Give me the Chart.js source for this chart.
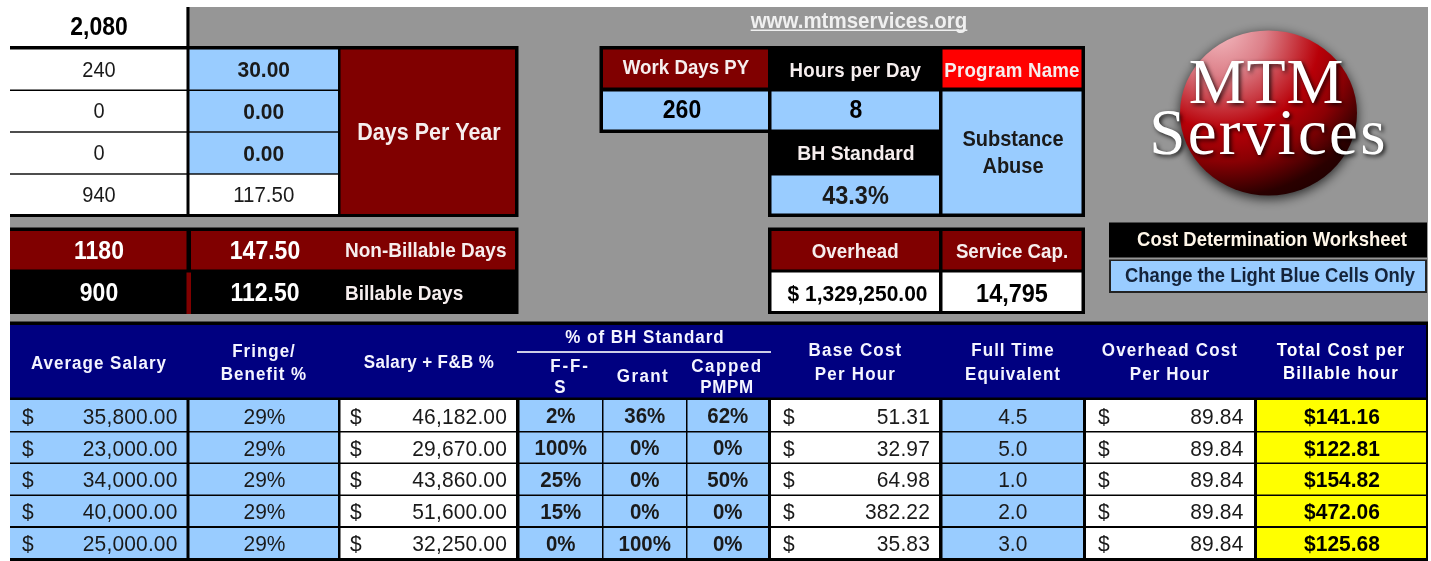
<!DOCTYPE html>
<html>
<head>
<meta charset="utf-8">
<title>Cost Determination Worksheet</title>
<script src="https://cdn.jsdelivr.net/npm/chart.js@4"></script>
<style>
  html, body { margin: 0; padding: 0; background: #fff; }
  #sheet { display: block; filter: blur(0.4px); }
</style>
</head>
<body>
<canvas id="sheet" width="1431" height="561"></canvas>
<script>
// worksheet values
const averageSalary = [35800, 23000, 34000, 40000, 25000];
const fringePct = [29, 29, 29, 29, 29];
const salaryPlusFb = [46182, 29670, 43860, 51600, 32250];
const ffsPct = [2, 100, 25, 15, 0];
const grantPct = [36, 0, 0, 0, 100];
const cappedPct = [62, 0, 50, 0, 0];
const baseCost = [51.31, 32.97, 64.98, 382.22, 35.83];
const fullTimeEq = [4.5, 5.0, 1.0, 2.0, 3.0];
const overheadCost = [89.84, 89.84, 89.84, 89.84, 89.84];
const totalCost = [141.16, 122.81, 154.82, 472.06, 125.68];

const hoursColumn = ['240', '0', '0', '940'];
const daysColumn = ['30.00', '0.00', '0.00', '117.50'];
const summaryLabels = ['Non-Billable Days', 'Billable Days'];
const summaryHours = ['1180', '900'];
const summaryDays = ['147.50', '112.50'];

// colours
const BLUE = '#99ccff', MAROON = '#800000', NAVY = '#000080', GRAY = '#969696', BLACK = '#000000',
      WHITE = '#ffffff', YELLOW = '#ffff00', RED = '#ff0000', INK = '#1a1a1a', PALE = '#f6eeee';

// the source is a picture stretched upwards, so glyphs are taller than they are wide
const STRETCH = 1.09;

// row edges of the lower table
const rowTop = [400, 432.5, 464, 496, 528];
const rowBottom = [431, 462.5, 494.5, 526, 558];

function money(v) {
  return v.toLocaleString('en-US', { minimumFractionDigits: 2, maximumFractionDigits: 2 });
}

// a cell is a point in the dataset (its centre) with the box around it
function cell(x0, y0, x1, y1, fill, text, o) {
  return Object.assign({ x: (x0 + x1) / 2, y: (y0 + y1) / 2, x0: x0, y0: y0, x1: x1, y1: y1, fill: fill, text: text }, o || {});
}
function label(x, y, text, size, weight, color, o) {
  return Object.assign({ x: x, y: y, text: text, size: size, weight: weight, color: color }, o || {});
}

function tableColumn(name, values, fmt, x0, x1, fill, o) {
  return {
    label: name,
    data: values.map(function (v, i) {
      return cell(x0, rowTop[i], x1, rowBottom[i], fill, fmt(v), Object.assign({ y: (rowTop[i] + rowBottom[i]) / 2 + 0.5 }, o));
    })
  };
}
function dollarColumn(name, values, x0, x1, dollarX, rightX, fill) {
  return {
    label: name,
    data: values.map(function (v, i) {
      const y = (rowTop[i] + rowBottom[i]) / 2 + 0.5;
      return cell(x0, rowTop[i], x1, rowBottom[i], fill, money(v), {
        x: rightX, y: y, align: 'right', size: 21, weight: 'normal', color: INK, ls: 0.15, prefix: '$', prefixX: dollarX
      });
    })
  };
}

const pct = function (v) { return v + '%'; };
const pctBold = { size: 20.5, weight: 'bold', color: INK };

// black and grey backing plus the fixed cells of the upper part
const upperCells = [
  cell(10, 7, 1428, 322, GRAY),
  cell(10, 7, 186.5, 46.5, WHITE, '2,080', { size: 23, weight: 'bold', color: BLACK, y: 27, x: 99 }),
  cell(186.5, 7, 189.5, 46.5, BLACK),
  cell(10, 46, 518.5, 217, BLACK),
  cell(340.5, 49.5, 515, 214, MAROON, 'Days Per Year', { size: 21.5, weight: 'bold', color: PALE, y: 132, x: 429 }),

  cell(10, 227.5, 518.5, 314, BLACK),
  cell(10, 231, 186.5, 269.5, MAROON),
  cell(191, 231, 515, 269.5, MAROON),
  cell(186.5, 272.5, 191, 314, MAROON),

  cell(599.5, 46, 1085, 133, BLACK),
  cell(768, 46, 1085, 217, BLACK),
  cell(603, 49.5, 768, 87.5, MAROON, 'Work Days PY', { size: 18.7, weight: 'bold', color: PALE, y: 67.5, x: 686 }),
  cell(771.5, 49.5, 939, 87.5, BLACK, 'Hours per Day', { size: 18.7, weight: 'bold', color: PALE, y: 70, ls: 0.3 }),
  cell(942.5, 49.5, 1081.5, 87.5, RED, 'Program Name', { size: 18.7, weight: 'bold', color: PALE, y: 70, ls: 0.2 }),
  cell(603, 91.5, 768, 129.5, BLUE, '260', { size: 23, weight: 'bold', color: BLACK, y: 110, x: 682 }),
  cell(771.5, 91.5, 939, 129.5, BLUE, '8', { size: 23, weight: 'bold', color: BLACK, y: 110, x: 856 }),
  cell(771.5, 133, 939, 175, BLACK, 'BH Standard', { size: 19.4, weight: 'bold', color: PALE, y: 153, x: 856 }),
  cell(771.5, 175.5, 939, 213.5, BLUE, '43.3%', { size: 23.5, weight: 'bold', color: INK, y: 195, x: 855.5 }),
  cell(942.5, 91.5, 1081.5, 213.5, BLUE),

  cell(768, 227.5, 1085, 314, BLACK),
  cell(771.5, 231, 939, 269.5, MAROON, 'Overhead', { size: 18.7, weight: 'bold', color: PALE, y: 251, ls: 0.1 }),
  cell(942.5, 231, 1081.5, 269.5, MAROON, 'Service Cap.', { size: 18.7, weight: 'bold', color: PALE, y: 251 }),
  cell(771.5, 272.5, 939, 311, WHITE, '$ 1,329,250.00', { size: 21, weight: 'bold', color: BLACK, y: 293, x: 857.5 }),
  cell(942.5, 272.5, 1081.5, 311, WHITE, '14,795', { size: 23.5, weight: 'bold', color: BLACK, y: 293 }),

  cell(1109, 222.5, 1427, 257.5, BLACK, 'Cost Determination Worksheet', { size: 18.5, weight: 'bold', color: '#fff6e8', y: 239.5, x: 1272, width: 271 }),
  cell(1109, 259.5, 1427, 293, '#222222'),
  cell(1111, 261, 1425, 291, BLUE, 'Change the Light Blue Cells Only', { size: 19, weight: 'bold', color: '#14233a', y: 275.5, x: 1270, width: 290 }),

  cell(10, 321.5, 1428, 561, BLACK),
  cell(10, 325, 1426, 397.5, NAVY)
];

// the two stacked columns in the top left block
const hoursCells = hoursColumn.map(function (v, i) {
  const tops = [49.5, 91, 132.7, 174.7], bottoms = [89.5, 131.3, 173.3, 214];
  return cell(10, tops[i], 186.5, bottoms[i], WHITE, v, { size: 20, weight: 'normal', color: INK, x: 99 });
});
const daysCells = daysColumn.map(function (v, i) {
  const tops = [49.5, 91, 132.7, 174.7], bottoms = [89.5, 131.3, 173.3, 214];
  return cell(189.5, tops[i], 338, bottoms[i], i < 3 ? BLUE : WHITE, v, i < 3
    ? { size: 21, weight: 'bold', color: INK } : { size: 20.5, weight: 'normal', color: INK });
});

const summaryText = [
  label(99, 250.5, summaryHours[0], 23, 'bold', WHITE, {}),
  label(265, 250.5, summaryDays[0], 23, 'bold', WHITE, {}),
  label(345, 250.5, summaryLabels[0], 19, 'bold', PALE, { align: 'left' }),
  label(99, 293, summaryHours[1], 23, 'bold', WHITE, {}),
  label(265, 293, summaryDays[1], 23, 'bold', WHITE, {}),
  label(345, 293, summaryLabels[1], 19, 'bold', PALE, { align: 'left' })
];

const headerText = [
  label(859, 20.5, 'www.mtmservices.org', 20.5, 'bold', '#f0f0f0', { underline: true }),
  label(1013, 139, 'Substance', 20, 'bold', INK, {}),
  label(1013, 166, 'Abuse', 20, 'bold', INK, {}),
  label(99, 362.5, 'Average Salary', 17, 'bold', '#f4f4ff', { ls: 1 }),
  label(264, 351, 'Fringe/', 17, 'bold', '#f4f4ff', { ls: 1 }),
  label(264, 374, 'Benefit %', 17, 'bold', '#f4f4ff', { ls: 1 }),
  label(429, 362, 'Salary + F&B %', 17, 'bold', '#f4f4ff', { ls: 0.4 }),
  label(645, 336.5, '% of BH Standard', 17, 'bold', '#f4f4ff', { ls: 1 }),
  label(570, 365.5, 'F-F-', 17, 'bold', '#f4f4ff', { ls: 1.8 }),
  label(560, 387, 'S', 17, 'bold', '#f4f4ff', {}),
  label(643, 376, 'Grant', 17, 'bold', '#f4f4ff', { ls: 1.4 }),
  label(727, 366, 'Capped', 17, 'bold', '#f4f4ff', { ls: 1.5 }),
  label(727, 387, 'PMPM', 17, 'bold', '#f4f4ff', { ls: 0.6 }),
  label(855.5, 350, 'Base Cost', 17, 'bold', '#f4f4ff', { ls: 1.2 }),
  label(855.5, 374, 'Per Hour', 17, 'bold', '#f4f4ff', { ls: 1.2 }),
  label(1013, 350, 'Full Time', 17, 'bold', '#f4f4ff', { ls: 1 }),
  label(1013, 374, 'Equivalent', 17, 'bold', '#f4f4ff', { ls: 1 }),
  label(1170, 350, 'Overhead Cost', 17, 'bold', '#f4f4ff', { ls: 1.2 }),
  label(1170, 374, 'Per Hour', 17, 'bold', '#f4f4ff', { ls: 1.1 }),
  label(1341, 350, 'Total Cost per', 17, 'bold', WHITE, { ls: 1.1 }),
  label(1341, 373, 'Billable hour', 17, 'bold', WHITE, { ls: 1 })
];

// rule under "% of BH Standard"
const headerRule = [cell(517, 351.2, 771, 352.8, WHITE)];

// the logo ball, placed with the same scales
const logoBall = [{ x: 1268.5, y: 113, rx: 88.5, ry: 82.5, logo: true }];

const datasets = [
  { label: 'Upper cells', data: upperCells },
  { label: 'Hours', data: hoursCells },
  { label: 'Days', data: daysCells },
  { label: 'Summary', data: summaryText },
  { label: 'Rule', data: headerRule },
  { label: 'Logo', data: logoBall },
  { label: 'Headings', data: headerText },
  dollarColumn('Average Salary', averageSalary, 10, 186.5, 28, 177.5, BLUE),
  tableColumn('Fringe/Benefit %', fringePct, pct, 189.5, 338, BLUE, { size: 21, weight: 'normal', color: INK, x: 264.5 }),
  dollarColumn('Salary + F&B %', salaryPlusFb, 340.5, 516, 356, 507, WHITE),
  tableColumn('F-F-S', ffsPct, pct, 519.5, 602, BLUE, pctBold),
  tableColumn('Grant', grantPct, pct, 603.5, 686, BLUE, pctBold),
  tableColumn('Capped PMPM', cappedPct, pct, 687.5, 768, BLUE, pctBold),
  dollarColumn('Base Cost Per Hour', baseCost, 771, 939, 789, 930, WHITE),
  tableColumn('Full Time Equivalent', fullTimeEq, function (v) { return v.toFixed(1); }, 942.5, 1083, BLUE, { size: 21, weight: 'normal', color: INK }),
  dollarColumn('Overhead Cost Per Hour', overheadCost, 1086, 1254, 1104, 1243.5, WHITE),
  tableColumn('Total Cost per Billable hour', totalCost, function (v) { return '$' + money(v); }, 1257, 1426, YELLOW, { size: 21, weight: 'bold', color: BLACK, x: 1342 })
];

function drawText(ctx, px, py, item, text, align) {
  const size = item.size * STRETCH;
  ctx.save();
  ctx.translate(px, py + size * 0.335);
  ctx.scale(1 / STRETCH, 1);
  ctx.font = (item.weight || 'normal') + ' ' + size + 'px "Liberation Sans", Arial, sans-serif';
  ctx.letterSpacing = ((item.ls || 0) * STRETCH) + 'px';
  ctx.fillStyle = item.color;
  ctx.textAlign = align || 'center';
  ctx.textBaseline = 'alphabetic';
  ctx.fillText(text, 0, 0, item.width ? item.width * STRETCH : undefined);
  const w = ctx.measureText(text).width / STRETCH;
  ctx.restore();
  return w;
}

function drawLogo(ctx, item, x, y) {
  const cx = x.getPixelForValue(item.x), cy = y.getPixelForValue(item.y);
  ctx.save();
  ctx.shadowColor = 'rgba(0,0,0,0.75)';
  ctx.shadowBlur = 12;
  ctx.shadowOffsetY = 3;
  ctx.beginPath();
  ctx.ellipse(cx, cy, item.rx, item.ry, 0, 0, Math.PI * 2);
  const g = ctx.createRadialGradient(cx - 50, cy - 85, 4, cx - 40, cy - 75, 190);
  g.addColorStop(0, '#f2b8be');
  g.addColorStop(0.22, '#dc7f88');
  g.addColorStop(0.5, '#b80008');
  g.addColorStop(0.66, '#8a0004');
  g.addColorStop(0.84, '#2a0000');
  g.addColorStop(1, '#160000');
  ctx.fillStyle = g;
  ctx.fill();
  ctx.restore();

  ctx.save();
  ctx.shadowColor = 'rgba(0,0,0,0.8)';
  ctx.shadowBlur = 4;
  ctx.shadowOffsetX = 2;
  ctx.shadowOffsetY = 2;
  ctx.fillStyle = '#ffffff';
  ctx.textAlign = 'center';
  ctx.textBaseline = 'alphabetic';
  ctx.font = '64px "Liberation Serif", serif';
  ctx.letterSpacing = '0.8px';
  ctx.fillText('MTM', cx - 2, cy - 10);
  ctx.font = '65px "Liberation Serif", serif';
  ctx.letterSpacing = '2.3px';
  ctx.fillText('Services', cx, cy + 41);
  ctx.restore();
}

// fills every cell and writes its text at the position the scales give
const sheetPlugin = {
  id: 'sheetPlugin',
  afterDatasetsDraw: function (chart) {
    const ctx = chart.ctx, x = chart.scales.x, y = chart.scales.y;
    chart.data.datasets.forEach(function (ds) {
      ds.data.forEach(function (item) {
        if (item.logo) { drawLogo(ctx, item, x, y); return; }
        if (item.fill) {
          const left = x.getPixelForValue(item.x0), top = y.getPixelForValue(item.y0);
          ctx.fillStyle = item.fill;
          ctx.fillRect(left, top, x.getPixelForValue(item.x1) - left, y.getPixelForValue(item.y1) - top);
        }
        if (!item.text) return;
        const px = x.getPixelForValue(item.x), py = y.getPixelForValue(item.y);
        const w = drawText(ctx, px, py, item, item.text, item.align);
        if (item.prefix) drawText(ctx, x.getPixelForValue(item.prefixX), py, item, item.prefix, 'center');
        if (item.underline) {
          ctx.fillStyle = item.color;
          ctx.fillRect(px - w / 2, py + 9, w, 1.5);
        }
      });
    });
  }
};

new Chart(document.getElementById('sheet').getContext('2d'), {
  type: 'scatter',
  plugins: [sheetPlugin],
  data: { datasets: datasets },
  options: {
    responsive: false,
    animation: false,
    layout: { padding: 0 },
    elements: { point: { radius: 0, hoverRadius: 0 } },
    scales: {
      x: { type: 'linear', min: 0, max: 1431, display: false },
      y: { type: 'linear', min: 0, max: 561, reverse: true, display: false }
    },
    plugins: {
      legend: { display: false },
      tooltip: { enabled: false },
      title: { display: false }
    }
  }
});
</script>
</body>
</html>
